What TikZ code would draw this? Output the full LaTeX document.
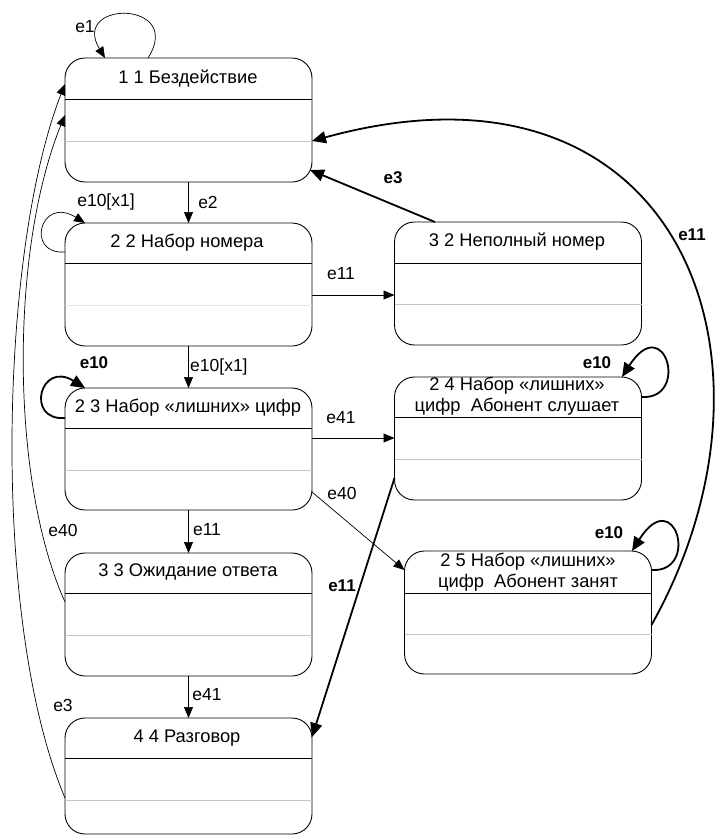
\documentclass[tikz,border=0pt]{standalone}
\usepackage{fontspec}
\setmainfont{Liberation Sans}
\usetikzlibrary{arrows.meta}
\begin{document}
\begin{tikzpicture}[x=1pt,y=-1pt,
  state/.style={draw, line width=0.9pt, rounded corners=20pt, minimum width=247pt, inner sep=0pt, outer sep=0pt},
  divb/.style={line width=0.9pt},
  divg/.style={line width=0.9pt, gray!45},
  ttl/.style={inner sep=0pt, font=\fontsize{18.3}{21}\selectfont, align=center},
  lbl/.style={inner sep=0pt, font=\fontsize{17.5}{20}\selectfont},
  blbl/.style={inner sep=0pt, font=\fontsize{17}{20}\selectfont\bfseries},
  tarr/.style={line width=0.7pt, -{Triangle[length=11pt,width=9pt]}},
  barr/.style={line width=1.8pt, -{Triangle[length=14pt,width=12pt]}}
]
\useasboundingbox (0,0) rectangle (716,836);

% state boxes
\node[state, minimum height=124pt] (b1) at (188.5,120) {};
\node[state, minimum height=123pt] (b2) at (188.5,284.5) {};
\node[state, minimum height=122pt] (b3) at (188.5,449) {};
\node[state, minimum height=123pt] (b4) at (188.5,614.5) {};
\node[state, minimum height=116pt] (b5) at (188.5,776) {};
\node[state, minimum height=123pt] (b32) at (518,283.5) {};
\node[state, minimum height=123pt] (b24) at (518,438.5) {};
\node[state, minimum height=123pt] (b25) at (528,612.5) {};

% dividers
\draw[divb] (b1.west |- 0,99) -- (b1.east |- 0,99);
\draw[divg] (b1.west |- 0,141) -- (b1.east |- 0,141);
\draw[divb] (b2.west |- 0,263) -- (b2.east |- 0,263);
\draw[divg, gray!20] (b2.west |- 0,305) -- (b2.east |- 0,305);
\draw[divb] (b3.west |- 0,428) -- (b3.east |- 0,428);
\draw[divg] (b3.west |- 0,470) -- (b3.east |- 0,470);
\draw[divb] (b4.west |- 0,593) -- (b4.east |- 0,593);
\draw[divg] (b4.west |- 0,635) -- (b4.east |- 0,635);
\draw[divb] (b5.west |- 0,758) -- (b5.east |- 0,758);
\draw[divg] (b5.west |- 0,800) -- (b5.east |- 0,800);
\draw[divb] (b32.west |- 0,263) -- (b32.east |- 0,263);
\draw[divg] (b32.west |- 0,304) -- (b32.east |- 0,304);
\draw[divb] (b24.west |- 0,417) -- (b24.east |- 0,417);
\draw[divg] (b24.west |- 0,459) -- (b24.east |- 0,459);
\draw[divb] (b25.west |- 0,593) -- (b25.east |- 0,593);
\draw[divg] (b25.west |- 0,634) -- (b25.east |- 0,634);

% titles
\node[ttl] (t1) at (188,79) {1 1 Бездействие};
\node[ttl] (t2) at (187,243) {2 2 Набор номера};
\node[ttl] (t3) at (188,408) {2 3 Набор «лишних» цифр};
\node[ttl] (t4) at (188,572) {3 3 Ожидание ответа};
\node[ttl] (t5) at (187,738) {4 4 Разговор};
\node[ttl] (t32) at (517,242) {3 2 Неполный номер};
\node[ttl] (t24) at (517,396.5) {2 4 Набор «лишних»\\цифр\ \ Абонент слушает};
\node[ttl] (t25) at (528,572.5) {2 5 Набор «лишних»\\цифр\ \ Абонент занят};

% self loops
\draw[tarr] (148,0 |- b1.north) .. controls (185,0) and (70,0) .. (105,0 |- b1.north);
\draw[tarr] (b2.west |- 0,252) .. controls (25,255) and (40,195) .. (85,0 |- b2.north);
\draw[barr] (b3.west |- 0,418) .. controls (25,421) and (40,360) .. (85,0 |- b3.north);
\draw[barr] (b24.east |- 0,397) .. controls (690,400) and (665,310) .. (622,0 |- b24.north);
\draw[barr] (b25.east |- 0,570) .. controls (700,573) and (675,483) .. (632,0 |- b25.north);

% straight transitions
\draw[tarr] (b1.south) -- (b2.north);
\draw[tarr] (b2.south) -- (b3.north);
\draw[tarr] (b3.south) -- (b4.north);
\draw[tarr] (b4.south) -- (b5.north);
\draw[tarr] (b2.east |- 0,295) -- (b32.west |- 0,295);
\draw[tarr] (b3.east |- 0,438) -- (b24.west |- 0,438);
\draw[tarr] (b3.east |- 0,492) -- (b25.west |- 0,570);
\draw[barr] (b24.west |- 0,478) -- (b5.east |- 0,737);
\draw[barr] (435,0 |- b32.north) -- (310,170);
\draw[barr] (b25.east |- 0,625) .. controls (800,360) and (680,40) .. (b1.east |- 0,141);
\draw[tarr] (b4.west |- 0,602) .. controls (10,480) and (10,250) .. (b1.west |- 0,115);
\draw[tarr] (b5.west |- 0,798) .. controls (-10,620) and (0,250) .. (b1.west |- 0,84);

% labels
\node[lbl] (l1) at (85,27) {e1};
\node[lbl] (l2) at (106,202) {e10[x1]};
\node[lbl] (l3) at (208,202) {e2};
\node[blbl] (l4) at (94,363) {e10};
\node[lbl, anchor=west] (l5) at (190,367) {e10[x1]};
\node[lbl] (l6) at (341,274) {e11};
\node[lbl] (l7) at (341,418) {e41};
\node[lbl] (l8) at (342,493) {e40};
\node[blbl] (l9) at (597,363) {e10};
\node[blbl] (l10) at (692,235) {e11};
\node[blbl] (l11) at (393,178) {e3};
\node[blbl] (l12) at (342,586) {e11};
\node[blbl] (l13) at (609,533) {e10};
\node[lbl] (l14) at (207,530) {e11};
\node[lbl] (l15) at (207,695) {e41};
\node[lbl] (l16) at (63,530) {e40};
\node[lbl] (l17) at (63,705) {e3};
\end{tikzpicture}
\end{document}
